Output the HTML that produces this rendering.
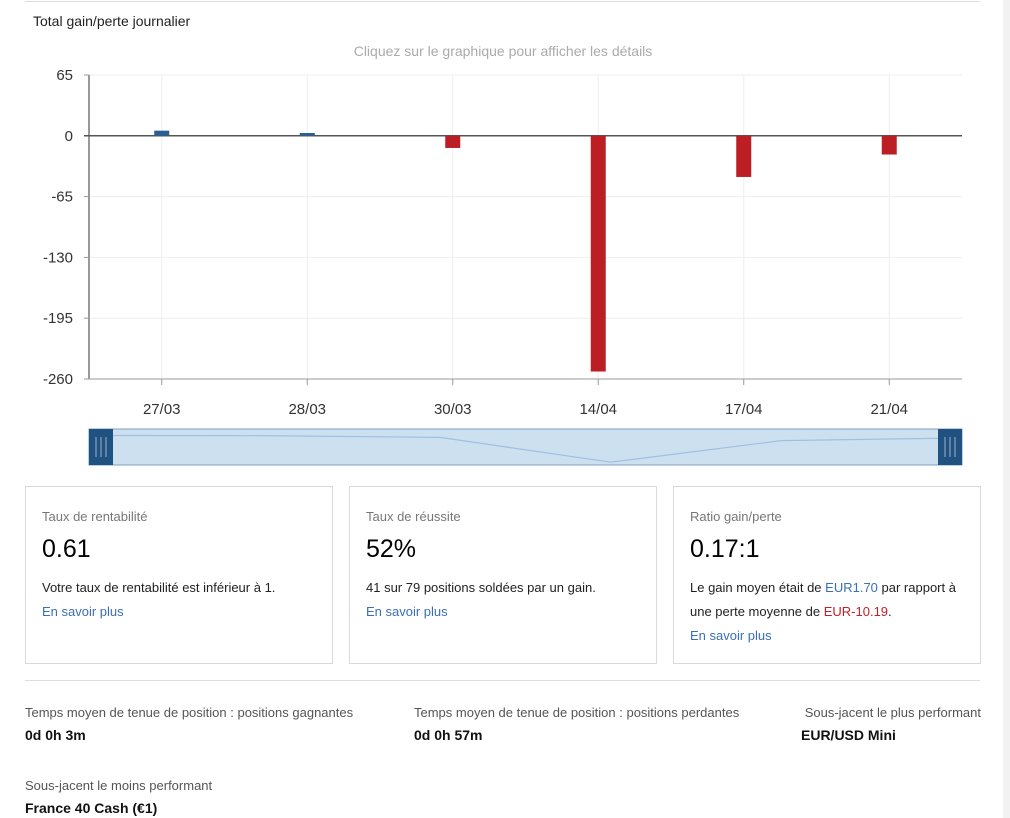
<!DOCTYPE html>
<html><head><meta charset="utf-8"><style>
body{margin:0;width:1010px;height:818px;background:#fff;font-family:"Liberation Sans",sans-serif;position:relative;overflow:hidden;color:#111}
.abs{position:absolute}
.card{position:absolute;top:486px;width:308px;height:178px;border:1px solid #d9d9d9;box-sizing:border-box}
.card .t{position:absolute;left:16px;top:22px;font-size:13px;color:#777}
.card .v{position:absolute;left:16px;top:48px;font-size:25px;color:#000}
.card .d{position:absolute;left:16px;top:89px;font-size:13px;line-height:24px;color:#222;width:280px}
.link{color:#3a6fb5}
.lbl{font-size:13px;color:#555}
.val{font-size:14px;font-weight:bold;color:#111}
</style></head><body>
<div class="abs" style="left:1003px;top:0;width:7px;height:818px;background:#f2f2f2"></div>
<div class="abs" style="left:25px;top:1px;width:955px;height:1px;background:#ddd"></div>
<div class="abs" style="left:33px;top:13px;font-size:14px;color:#222">Total gain/perte journalier</div>
<div class="abs" style="left:0;width:1006px;text-align:center;top:43px;font-size:14px;color:#aaa">Cliquez sur le graphique pour afficher les détails</div>
<svg class="abs" style="left:0;top:0" width="1010" height="480" id="chart"></svg>
<div class="card" style="left:25px">
<div class="t">Taux de rentabilité</div><div class="v">0.61</div>
<div class="d">Votre taux de rentabilité est inférieur à 1.<br><span class="link">En savoir plus</span></div></div>
<div class="card" style="left:349px">
<div class="t">Taux de réussite</div><div class="v">52%</div>
<div class="d">41 sur 79 positions soldées par un gain.<br><span class="link">En savoir plus</span></div></div>
<div class="card" style="left:673px">
<div class="t">Ratio gain/perte</div><div class="v">0.17:1</div>
<div class="d">Le gain moyen était de <span class="link">EUR1.70</span> par rapport à une perte moyenne de <span style="color:#c0202a">EUR-10.19</span>.<br><span class="link">En savoir plus</span></div></div>
<div class="abs" style="left:25px;top:680px;width:955px;height:1px;background:#ddd"></div>
<div class="abs lbl" style="left:25px;top:705px">Temps moyen de tenue de position : positions gagnantes</div>
<div class="abs val" style="left:25px;top:727px">0d 0h 3m</div>
<div class="abs lbl" style="left:414px;top:705px">Temps moyen de tenue de position : positions perdantes</div>
<div class="abs val" style="left:414px;top:727px">0d 0h 57m</div>
<div class="abs lbl" style="right:29px;top:705px">Sous-jacent le plus performant</div>
<div class="abs val" style="left:801px;top:727px">EUR/USD Mini</div>
<div class="abs lbl" style="left:25px;top:778px">Sous-jacent le moins performant</div>
<div class="abs val" style="left:25px;top:800px">France 40 Cash (€1)</div>
<script>
const categories=["27/03","28/03","30/03","14/04","17/04","21/04"];
const values=[5.5,3,-13,-252,-44,-20];
const yTicks=[65,0,-65,-130,-195,-260];
const NS="http://www.w3.org/2000/svg";
const svg=document.getElementById('chart');
const X0=89,X1=962,Y0=75,Y1=379,ymax=65,ymin=-260;
const y=v=>Y0+(ymax-v)/(ymax-ymin)*(Y1-Y0);
const bw=(X1-X0)/categories.length;
const xc=i=>X0+bw*(i+0.5);
function mk(t,a){const e=document.createElementNS(NS,t);for(const k in a)e.setAttribute(k,a[k]);svg.appendChild(e);return e;}
yTicks.forEach(t=>{
 const g=mk('line',{x1:X0,x2:X1,y1:y(t),y2:y(t),stroke:'#eee'});
 
 const tk=mk('line',{x1:X0-5,x2:X0,y1:y(t),y2:y(t),stroke:'#999'});
 
 const tx=mk('text',{x:X0-16,y:y(t)+5,'text-anchor':'end','font-size':'15','fill':'#333','font-family':'Liberation Sans'});
 tx.textContent=t;
});
categories.forEach((c,i)=>{
 const g=mk('line',{x1:xc(i),x2:xc(i),y1:Y0,y2:Y1,stroke:'#eee'});
 
 const tk=mk('line',{x1:xc(i),x2:xc(i),y1:Y1,y2:Y1+6,stroke:'#999'});
 
 const tx=mk('text',{x:xc(i),y:Y1+35,'text-anchor':'middle','font-size':'15','fill':'#333','font-family':'Liberation Sans'});
 tx.textContent=c;
});
const ya=mk('line',{x1:X0,x2:X0,y1:Y0,y2:Y1,stroke:'#999','stroke-width':2});

const xa=mk('line',{x1:X0,x2:X1,y1:Y1,y2:Y1,stroke:'#999'});

const zl=mk('line',{x1:X0-5,x2:X1,y1:y(0),y2:y(0),stroke:'#555','stroke-width':1.5});

values.forEach((v,i)=>{
 const top=Math.min(y(v),y(0)),h=Math.abs(y(v)-y(0));
 const r=mk('rect',{x:xc(i)-7.5,y:top,width:15,height:h,fill:v>=0?'#2a5f93':'#bb1f24'});
 
});
const NY0=429,NY1=465;
const nb=mk('rect',{x:X0,y:NY0,width:X1-X0,height:NY1-NY0,fill:'#cde0f0',stroke:'#7f9fbf'});

const ny=v=>NY0+6+(10-v)/(10-ymin)*(NY1-NY0-8);
let d='';values.forEach((v,i)=>{d+=(i?'L':'M')+(X0+10+(X1-X0-20)*i/(values.length-1))+','+ny(v);});
const nl=mk('path',{d:d,fill:'none',stroke:'#9ec0e3','stroke-width':1.2});

[[X0,'navigator-left-handle'],[X1-24,'navigator-right-handle']].forEach(([hx,n])=>{
 const h=mk('rect',{x:hx,y:NY0,width:24,height:NY1-NY0,fill:'#1f5280'});
 
 [7,12,17].forEach(o=>mk('line',{x1:hx+o,x2:hx+o,y1:NY0+8,y2:NY1-8,stroke:'#7592b0','stroke-width':1.5}));
});
</script>
</body></html>
